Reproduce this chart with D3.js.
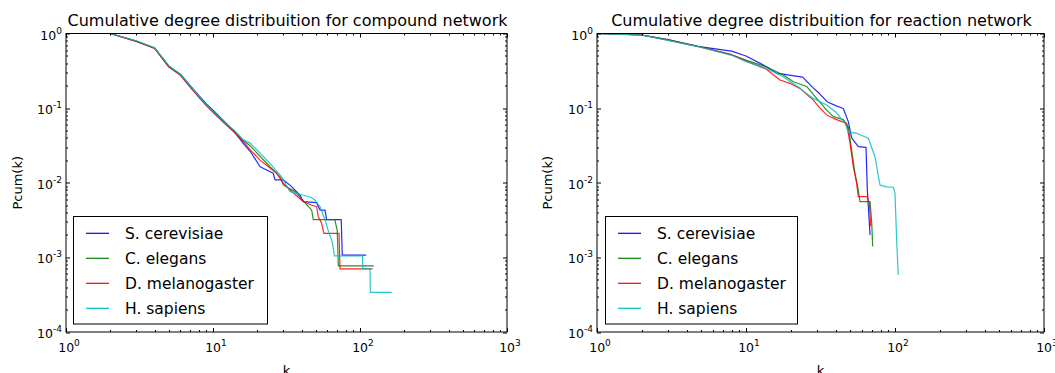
<!DOCTYPE html>
<html>
<head>
<meta charset="utf-8">
<script src="https://cdn.jsdelivr.net/npm/d3@7/dist/d3.min.js"></script>
<style>
  body { margin: 0; background: #fff; }
  text { font-family: "DejaVu Sans", sans-serif; fill: #000; }
</style>
</head>
<body>
<div id="canvas"></div>
<script>
// series names + colours (matplotlib classic b, g, r, c)
var species = ['S. cerevisiae', 'C. elegans', 'D. melanogaster', 'H. sapiens'];
var colors = ['#0000ff', '#008000', '#ff0000', '#00bfbf'];

// decade ticks and their exponents
var xTicks = [1, 10, 100, 1000];
var xExp = ['0', '1', '2', '3'];
var yTicks = [1e-4, 1e-3, 1e-2, 1e-1, 1];
var yExp = ['-4', '-3', '-2', '-1', '0'];

// [k, Pcum(k)]
var compoundCerevisiae = [[2,1],[3,0.79],[4,0.64],[5,0.365],[6,0.285],[7,0.2],[8,0.148],[9,0.115],[10,0.094],[12,0.066],[14,0.048],[16,0.034],[18,0.026],[20.9,0.0164],[25.7,0.0134],[26.4,0.0109],[30.1,0.0109],[33.4,0.0093],[39.1,0.0068],[41.1,0.0056],[50.7,0.0054],[53.4,0.0043],[57.8,0.0043],[59.3,0.0032],[74.5,0.0032],[75.8,0.00107],[110,0.00107]];
var compoundElegans = [[2,1],[3,0.79],[4,0.64],[5,0.36],[6,0.28],[7,0.195],[8,0.142],[9,0.11],[10,0.09],[12,0.063],[14,0.049],[16,0.037],[18,0.031],[24.4,0.0164],[28.6,0.012],[30.1,0.0093],[36.1,0.0076],[46.9,0.0043],[48.1,0.0032],[67.4,0.0032],[70,0.0023],[71.2,0.00077],[124,0.00077]];
var compoundMelanogaster = [[2,1],[3,0.78],[4,0.63],[5,0.355],[6,0.275],[7,0.19],[8,0.14],[9,0.108],[10,0.088],[12,0.062],[14,0.047],[16,0.036],[18,0.0274],[20.9,0.0201],[27.1,0.0134],[30.1,0.0098],[33.4,0.008],[41.1,0.0056],[46.9,0.005],[50.7,0.0048],[52,0.0035],[54.7,0.0029],[56.8,0.0021],[72,0.0021],[73.1,0.0007],[122,0.0007]];
var compoundSapiens = [[2,1],[3,0.8],[4,0.645],[5,0.37],[6,0.285],[7,0.198],[8,0.145],[9,0.112],[10,0.091],[12,0.065],[14,0.05],[16,0.038],[18,0.0337],[24.4,0.0182],[29.3,0.012],[33.4,0.0076],[37.1,0.0072],[41.1,0.0068],[45.5,0.0065],[49.2,0.0059],[53.4,0.0048],[57.8,0.0032],[60.7,0.0023],[64.2,0.0017],[65.5,0.0014],[66.9,0.00105],[104,0.00105],[104.5,0.0007],[117,0.0007],[117.5,0.00034],[164,0.00034]];

// [k, Pcum(k)]
var reactionCerevisiae = [[1,1],[2,0.955],[3,0.83],[5,0.66],[8,0.58],[10,0.5],[13,0.38],[16,0.295],[20,0.275],[24,0.26],[28,0.19],[31,0.158],[35,0.122],[40,0.108],[45,0.099],[48.6,0.066],[51.2,0.04],[56.7,0.0304],[63.9,0.0298],[65.2,0.008],[68,0.002]];
var reactionElegans = [[1,1],[2,0.955],[3,0.82],[5,0.66],[8,0.52],[10,0.44],[13.8,0.355],[17.8,0.278],[20.8,0.226],[25.5,0.195],[29.8,0.135],[34.8,0.094],[38.6,0.077],[45,0.07],[48.6,0.056],[51.2,0.0274],[53.9,0.0134],[56.7,0.008],[58.2,0.0056],[68,0.0056],[69.8,0.0029],[70.8,0.0014]];
var reactionMelanogaster = [[1,1],[2,0.955],[3,0.815],[5,0.655],[8,0.52],[10,0.43],[13.8,0.33],[16.9,0.238],[19.7,0.215],[23,0.184],[28.3,0.128],[31.4,0.1],[34.8,0.081],[38.6,0.073],[44,0.066],[47.4,0.0625],[49.9,0.0337],[52.5,0.0164],[55.3,0.0098],[56.7,0.0065],[65.2,0.0065],[67.3,0.0053],[68.7,0.0026]];
var reactionSapiens = [[1,1],[2,0.95],[3,0.81],[5,0.65],[8,0.51],[10,0.42],[13.8,0.34],[17.8,0.264],[23,0.184],[28.3,0.135],[34.8,0.11],[40,0.089],[46.2,0.0625],[48.6,0.048],[55.3,0.046],[66.2,0.0394],[73.4,0.0223],[79.3,0.0093],[88,0.0088],[97.5,0.0087],[100,0.0072],[102.6,0.0017],[105.2,0.00058]];

var panels = [
  { title: 'Cumulative degree distribuition for compound network', left: 66, right: 507, ylabX: 17,
    series: [compoundCerevisiae, compoundElegans, compoundMelanogaster, compoundSapiens],
    legend: { x: 73.5, y: 216.5, w: 194, h: 107.5 } },
  { title: 'Cumulative degree distribuition for reaction network', left: 597, right: 1044, ylabX: 547,
    series: [reactionCerevisiae, reactionElegans, reactionMelanogaster, reactionSapiens],
    legend: { x: 605.5, y: 216.5, w: 192, h: 107.5 } }
];
var plotTop = 33.5, plotBottom = 332;

var svg = d3.select('#canvas').append('svg')
  .attr('width', 1055)
  .attr('height', 373);

var drawPanel = function (p) {
  var w = p.right - p.left, h = plotBottom - plotTop;
  var x = d3.scaleLog().domain([1, 1000]).range([0, w]);
  var y = d3.scaleLog().domain([1e-4, 1]).range([h, 0]);
  var g = svg.append('g').attr('transform', 'translate(' + p.left + ',' + plotTop + ')');

  var minorX = x.ticks().filter(function (d) { return xTicks.indexOf(d) < 0; });
  var minorY = y.ticks().filter(function (d) { return yTicks.indexOf(d) < 0; });

  // curves
  var line = d3.line()
    .x(function (d) { return x(d[0]); })
    .y(function (d) { return y(d[1]); });
  g.selectAll('path.curve').data(p.series)
    .enter().append('path')
    .attr('class', 'curve')
    .attr('d', line)
    .attr('fill', 'none')
    .attr('stroke', function (d, i) { return colors[i]; })
    .attr('stroke-width', 1.2)
    .attr('stroke-opacity', 0.85)
    .attr('stroke-linejoin', 'round');

  // inward ticks on all four sides
  var ticks = g.append('g').attr('stroke', '#000').attr('stroke-width', 1);
  var tickX = function (vals, len) {
    vals.forEach(function (v) {
      var px = Math.round(x(v)) + 0.5;
      ticks.append('line').attr('x1', px).attr('x2', px).attr('y1', h).attr('y2', h - len);
      ticks.append('line').attr('x1', px).attr('x2', px).attr('y1', 0).attr('y2', len);
    });
  };
  var tickY = function (vals, len) {
    vals.forEach(function (v) {
      var py = Math.round(y(v)) + 0.5;
      ticks.append('line').attr('y1', py).attr('y2', py).attr('x1', 0).attr('x2', len);
      ticks.append('line').attr('y1', py).attr('y2', py).attr('x1', w).attr('x2', w - len);
    });
  };
  tickX(xTicks, 4); tickX(minorX, 2);
  tickY(yTicks, 4); tickY(minorY, 2);

  // frame
  g.append('rect').attr('x', 0).attr('y', 0).attr('width', w).attr('height', h)
    .attr('fill', 'none').attr('stroke', '#000').attr('stroke-width', 1);

  // tick labels 10^n
  var xl = g.selectAll('text.xl').data(xTicks).enter().append('text')
    .attr('class', 'xl')
    .attr('x', function (d) { return x(d) + 3; })
    .attr('y', h + 20)
    .attr('text-anchor', 'middle')
    .style('font-size', '12.5px');
  xl.append('tspan').text('10');
  xl.append('tspan').attr('dy', -6).style('font-size', '9px').text(function (d, i) { return xExp[i]; });

  var yl = g.selectAll('text.yl').data(yTicks).enter().append('text')
    .attr('class', 'yl')
    .attr('x', -4)
    .attr('y', function (d) { return y(d) + 6; })
    .attr('text-anchor', 'end')
    .style('font-size', '12.5px');
  yl.append('tspan').text('10');
  yl.append('tspan').attr('dy', -6).style('font-size', '9px').text(function (d, i) { return yExp[i]; });

  // title and axis labels
  g.append('text').attr('x', w / 2 + 1).attr('y', -7.5).attr('text-anchor', 'middle')
    .style('font-size', '16px').text(p.title);
  g.append('text').attr('x', w / 2).attr('y', h + 43).attr('text-anchor', 'middle')
    .style('font-size', '13px').text('k');
  svg.append('text').attr('transform', 'translate(' + (p.ylabX + 4.5) + ',' + (plotTop + h / 2) + ') rotate(-90)')
    .attr('text-anchor', 'middle').style('font-size', '13px').text('Pcum(k)');

  // legend
  var lg = svg.append('g').attr('transform', 'translate(' + p.legend.x + ',' + p.legend.y + ')');
  lg.append('rect').attr('width', p.legend.w).attr('height', p.legend.h)
    .attr('fill', '#fff').attr('stroke', '#000').attr('stroke-width', 1);
  var row = lg.selectAll('g.row').data(species).enter().append('g')
    .attr('class', 'row')
    .attr('transform', function (d, i) { return 'translate(0,' + (16.8 + i * 25) + ')'; });
  row.append('line').attr('x1', 12.5).attr('x2', 35.5).attr('y1', 0).attr('y2', 0)
    .attr('stroke', function (d, i) { return colors[i]; }).attr('stroke-width', 1.2);
  row.append('text').attr('x', 51.5).attr('y', 5.5).style('font-size', '15.5px').text(function (d) { return d; });
};

panels.forEach(drawPanel);
</script>
</body>
</html>
